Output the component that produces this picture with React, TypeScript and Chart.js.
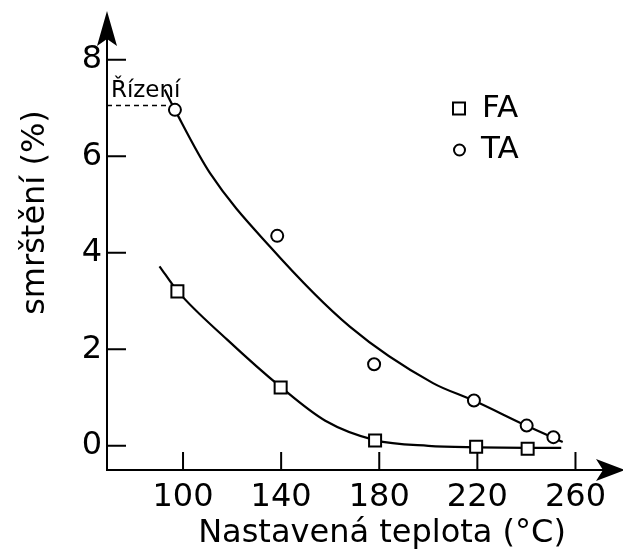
import React, { useEffect, useRef } from "react";
import { Chart, registerables } from "chart.js";

Chart.register(...registerables);

// axis ticks
const xTicks = [100, 140, 180, 220, 260];
const yTicks = [0, 2, 4, 6, 8];
const xTitle = "Nastavená teplota (°C)";
const yTitle = "smrštění (%)";
const refLabel = "Řízení";
const refLevel = 7.05;
const refSpan = [69, 94];

// measured points
const faTemp = [97.7, 139.8, 178.3, 219.5, 240.5];
const faShrink = [3.2, 1.21, 0.11, -0.02, -0.06];
const taTemp = [96.7, 138.4, 177.9, 218.6, 240.1, 251.0];
const taShrink = [6.96, 4.35, 1.69, 0.94, 0.42, 0.18];

// traced fitted curves
const faFitTemp = [90.4, 97.7, 118.0, 139.8, 158.0, 178.2, 200.0, 220.0, 240.0, 254.2];
const faFitShrink = [3.72, 3.21, 2.2, 1.22, 0.52, 0.12, 0.0, -0.03, -0.04, -0.04];
const taFitTemp = [92.5, 96.7, 111.0, 135.4, 168.0, 201.9, 218.5, 239.9, 254.8];
const taFitShrink = [7.38, 6.96, 5.65, 4.13, 2.47, 1.3, 0.94, 0.42, 0.08];

const FONT = "'DejaVu Sans'";

const zip = (xs: number[], ys: number[]) => xs.map((x, i) => ({ x, y: ys[i] }));

const decor = {
  id: "decor",
  afterDraw(chart: any) {
    const { ctx, chartArea: ca, scales } = chart;
    const x = scales.x;
    const y = scales.y;
    ctx.save();
    ctx.strokeStyle = "#000";
    ctx.fillStyle = "#000";
    ctx.lineWidth = 2;
    ctx.lineCap = "butt";
    // axes
    ctx.beginPath();
    ctx.moveTo(ca.left, ca.bottom + 1);
    ctx.lineTo(ca.left, 30);
    ctx.moveTo(ca.left - 1, ca.bottom);
    ctx.lineTo(605, ca.bottom);
    ctx.stroke();
    // arrows
    ctx.beginPath();
    ctx.moveTo(ca.left, 11);
    ctx.lineTo(ca.left + 10, 46);
    ctx.lineTo(ca.left, 39);
    ctx.lineTo(ca.left - 10, 46);
    ctx.closePath();
    ctx.fill();
    ctx.beginPath();
    ctx.moveTo(625, ca.bottom);
    ctx.lineTo(596, ca.bottom - 11);
    ctx.lineTo(603, ca.bottom);
    ctx.lineTo(596, ca.bottom + 11);
    ctx.closePath();
    ctx.fill();
    // inner ticks
    ctx.beginPath();
    yTicks.forEach((v) => {
      const py = y.getPixelForValue(v);
      ctx.moveTo(ca.left, py);
      ctx.lineTo(ca.left + 19, py);
    });
    xTicks.forEach((v) => {
      const px = x.getPixelForValue(v);
      ctx.moveTo(px, ca.bottom);
      ctx.lineTo(px, ca.bottom - 18);
    });
    ctx.stroke();
    // reference label
    ctx.font = `23px ${FONT}`;
    ctx.textAlign = "left";
    ctx.textBaseline = "alphabetic";
    ctx.fillText(refLabel, x.getPixelForValue(70.6), y.getPixelForValue(7.23));
    // legend
    ctx.lineWidth = 2;
    ctx.fillStyle = "#fff";
    ctx.beginPath();
    ctx.rect(453, 102.5, 12, 12);
    ctx.fill();
    ctx.stroke();
    ctx.beginPath();
    ctx.arc(459.5, 150, 5.5, 0, Math.PI * 2);
    ctx.fill();
    ctx.stroke();
    ctx.fillStyle = "#000";
    ctx.font = `31px ${FONT}`;
    ctx.textBaseline = "middle";
    ctx.fillText("FA", 482, 109);
    ctx.fillText("TA", 481, 150);
    // titles
    ctx.font = `32px ${FONT}`;
    ctx.textAlign = "center";
    ctx.textBaseline = "alphabetic";
    ctx.fillText(xTitle, 382, 542);
    ctx.save();
    ctx.translate(43.5, 212.5);
    ctx.rotate(-Math.PI / 2);
    ctx.fillText(yTitle, 0, 0);
    ctx.restore();
    ctx.restore();
  },
};

export default function App() {
  const ref = useRef<HTMLCanvasElement | null>(null);
  useEffect(() => {
    if (!ref.current) return;
    const chart = new Chart(ref.current, {
      type: "line",
      data: {
        datasets: [
          {
            label: "FA",
            data: zip(faTemp, faShrink),
            pointStyle: "rect",
            pointRadius: 8.5,
            pointBorderWidth: 2,
            pointBackgroundColor: "#fff",
            pointBorderColor: "#000",
            showLine: false,
            order: 0,
          },
          {
            label: "TA",
            data: zip(taTemp, taShrink),
            pointStyle: "circle",
            pointRadius: 6,
            pointBorderWidth: 2,
            pointBackgroundColor: "#fff",
            pointBorderColor: "#000",
            showLine: false,
            order: 0,
          },
          {
            label: "FA fit",
            data: zip(faFitTemp, faFitShrink),
            pointRadius: 0,
            borderColor: "#000",
            borderWidth: 2.2,
            fill: false,
            cubicInterpolationMode: "monotone",
            order: 1,
          },
          {
            label: "TA fit",
            data: zip(taFitTemp, taFitShrink),
            pointRadius: 0,
            borderColor: "#000",
            borderWidth: 2.2,
            fill: false,
            cubicInterpolationMode: "monotone",
            order: 1,
          },
          {
            label: "ref",
            data: refSpan.map((v) => ({ x: v, y: refLevel })),
            pointRadius: 0,
            borderColor: "#000",
            borderWidth: 1.5,
            borderDash: [5, 4],
            fill: false,
            order: 1,
          },
        ],
      },
      options: {
        responsive: false,
        animation: false,
        devicePixelRatio: 1,
        layout: { padding: { top: 50, right: 23, bottom: 0, left: 0 } },
        plugins: { legend: { display: false }, tooltip: { enabled: false } },
        scales: {
          x: {
            type: "linear",
            min: 69,
            max: 270,
            grid: { display: false, drawTicks: false },
            border: { display: false },
            afterBuildTicks: (s: any) => {
              s.ticks = xTicks.map((v) => ({ value: v }));
            },
            afterFit: (s: any) => {
              s.height = 83;
            },
            ticks: {
              autoSkip: false,
              maxRotation: 0,
              padding: 8,
              color: "#000",
              font: { family: FONT, size: 32 },
            },
          },
          y: {
            type: "linear",
            min: -0.5,
            max: 8.2,
            grid: { display: false, drawTicks: false },
            border: { display: false },
            afterBuildTicks: (s: any) => {
              s.ticks = yTicks.map((v) => ({ value: v }));
            },
            afterFit: (s: any) => {
              s.width = 107;
            },
            ticks: {
              autoSkip: false,
              padding: 5,
              color: "#000",
              font: { family: FONT, size: 32 },
            },
          },
        },
      },
      plugins: [decor],
    });
    return () => chart.destroy();
  }, []);
  return (
    <div style={{ position: "fixed", left: 0, top: 0, width: 623, height: 553, background: "#fff" }}>
      <canvas ref={ref} width={623} height={553} />
    </div>
  );
}
